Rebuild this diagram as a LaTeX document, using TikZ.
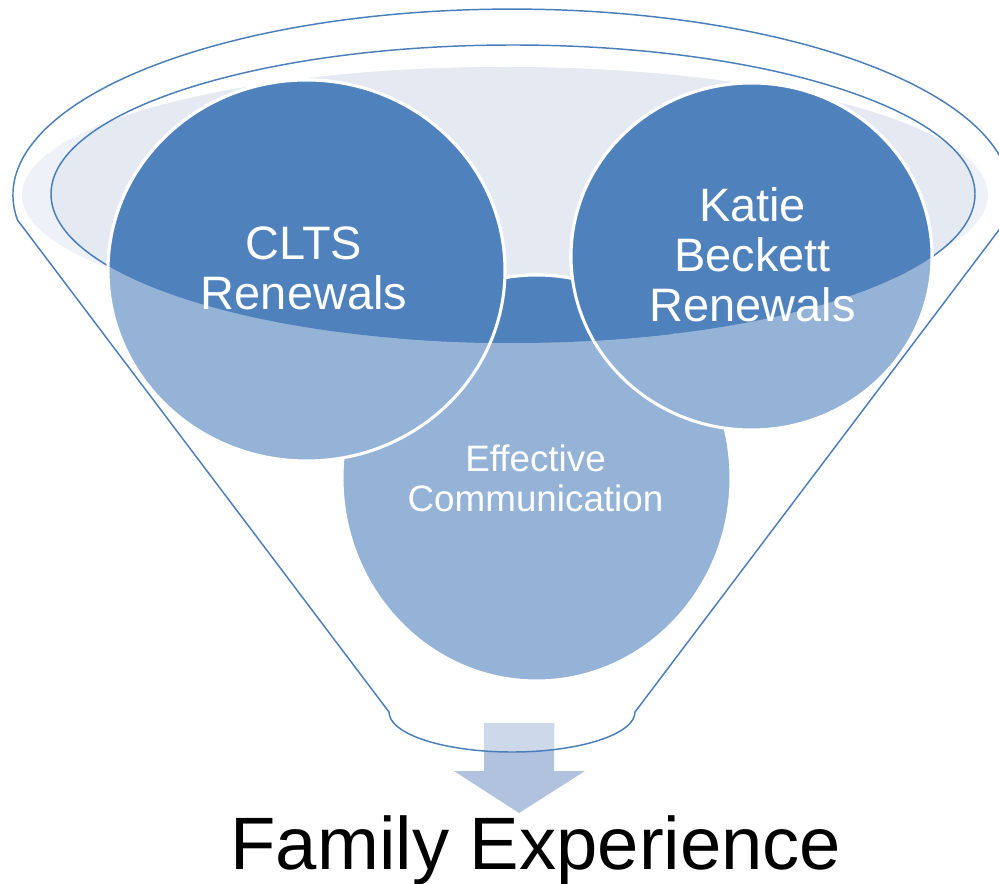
\documentclass[tikz,border=0pt]{standalone}
\usepackage{fontspec}
\setmainfont{Liberation Sans}
\definecolor{dk}{HTML}{4F81BD}
\definecolor{lt}{HTML}{95B3D7}
\definecolor{rim}{HTML}{4A7EBB}
\definecolor{bgA}{HTML}{E4E9F2}
\definecolor{bgB}{HTML}{EEF1F7}
\definecolor{arrA}{HTML}{CDD8EA}
\definecolor{arrB}{HTML}{B0C2DE}
\tikzset{
  rimline/.style={draw=rim, line width=1.1pt},
  bubble/.style={draw=white, line width=2.3pt},
  bigtxt/.style={text=white, align=center, inner sep=0pt, anchor=base,
     font=\fontsize{35.2}{37.5}\selectfont},
  midtxt/.style={text=white, align=center, inner sep=0pt, anchor=base,
     font=\fontsize{27.6}{30}\selectfont},
}
\begin{document}
\begin{tikzpicture}[x=0.75pt,y=-0.75pt]
\useasboundingbox (0,0) rectangle (999,884);
\clip (0,0) rectangle (999,884);
% background light ellipse
\fill[bgB] (505,195) ellipse [x radius=483, y radius=128];
\begin{scope}
  \clip (513,194) ellipse [x radius=462, y radius=149];
  \fill[bgA] (505,195) ellipse [x radius=483, y radius=128];
\end{scope}
% arrow
\fill[arrB] (484,723) -- (554,723) -- (554,771) -- (585,771) -- (519,813) -- (454,771) -- (484,771) -- cycle;
\begin{scope}
  \clip (389,600) -- (389,712) arc[start angle=180, end angle=0, x radius=123, y radius=40] -- (635,600) -- cycle;
  \fill[arrA] (484,723) -- (554,723) -- (554,771) -- (585,771) -- (519,813) -- (454,771) -- (484,771) -- cycle;
\end{scope}
% funnel outline
\draw[rimline] (389,712) -- (17.5,220) arc[start angle=172.3, end angle=367.7, x radius=499, y radius=186]
   -- (635,712) arc[start angle=0, end angle=180, x radius=123, y radius=40] -- cycle;
% inner rim
\draw[rimline] (513,194) ellipse [x radius=462, y radius=149];
% bubbles light
\filldraw[lt, bubble] (536.5,478) ellipse [x radius=194.5, y radius=203];
\filldraw[lt, bubble] (306.5,270.5) ellipse [x radius=198.5, y radius=190.5];
\filldraw[lt, bubble] (751.5,256.5) ellipse [x radius=180.5, y radius=173.5];
% dark part inside rim
\begin{scope}
  \clip (513,194) ellipse [x radius=462, y radius=149];
  \filldraw[dk, bubble] (536.5,478) ellipse [x radius=194.5, y radius=203];
  \filldraw[dk, bubble] (306.5,270.5) ellipse [x radius=198.5, y radius=190.5];
  \filldraw[dk, bubble] (751.5,256.5) ellipse [x radius=180.5, y radius=173.5];
\end{scope}
% texts (base anchor = baseline of last line)
\node[bigtxt] (clts) at (304,310) {CLTS\\Renewals};
\node[bigtxt] (katie) at (752.5,321) {Katie\\Beckett\\Renewals};
\node[midtxt] (eff) at (535.5,511) {Effective\\Communication};
\node[inner sep=0pt, anchor=base, font=\fontsize{55.7}{60}\selectfont] (fam) at (536,869) {Family Experience};
\end{tikzpicture}
\end{document}
